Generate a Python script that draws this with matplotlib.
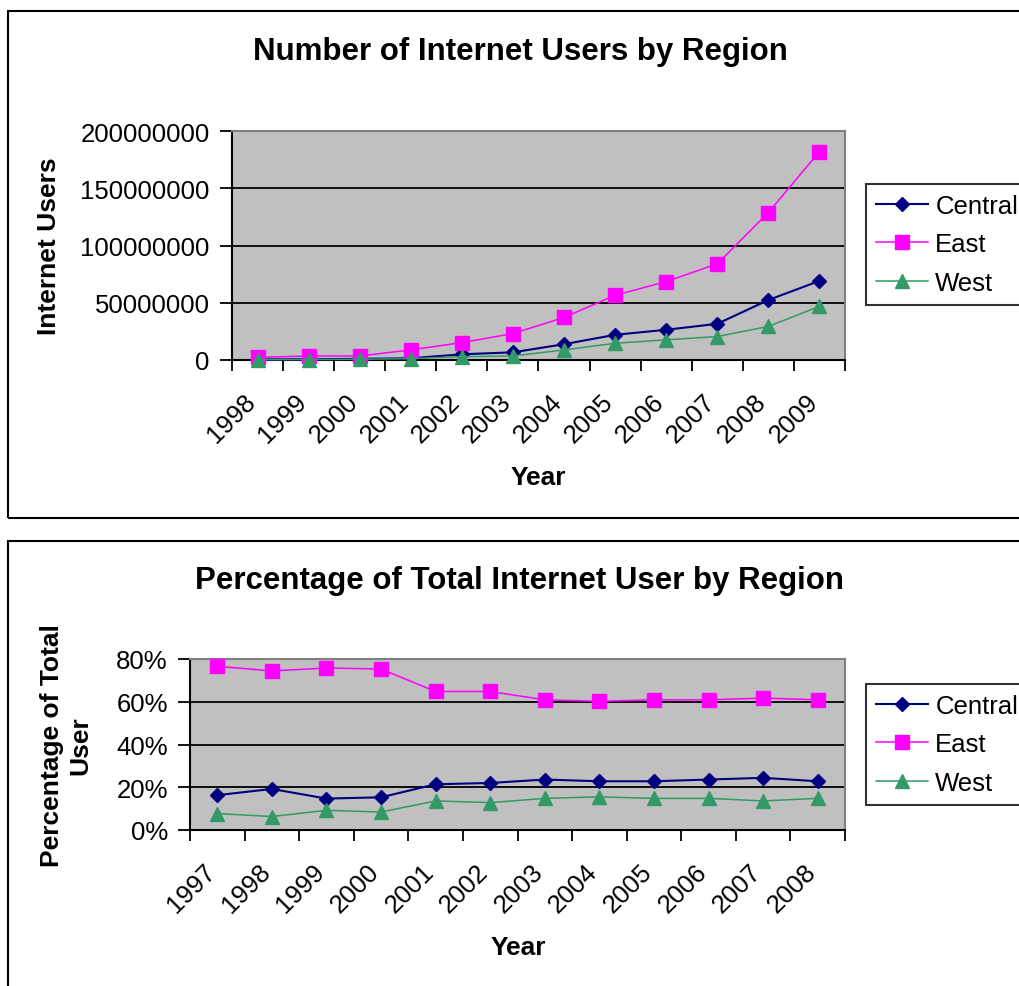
import matplotlib
matplotlib.use("Agg")
import matplotlib.pyplot as plt
import matplotlib.transforms as mtransforms
from matplotlib.patches import Rectangle
from matplotlib.ticker import FixedLocator, FuncFormatter

plt.rcParams["font.family"] = ["Liberation Sans", "DejaVu Sans"]

# internet users by region, absolute counts
years_users = ["1998", "1999", "2000", "2001", "2002", "2003",
               "2004", "2005", "2006", "2007", "2008", "2009"]
central_users = [500000, 700000, 1000000, 1500000, 5000000, 6700000,
                 13800000, 22000000, 26400000, 31600000, 52400000, 69100000]
east_users = [2300000, 3500000, 3500000, 8800000, 15200000, 23100000,
              37200000, 56500000, 68500000, 84000000, 128800000, 182000000]
west_users = [300000, 400000, 600000, 1200000, 2900000, 3500000,
              8800000, 14600000, 17600000, 20500000, 29300000, 46900000]

# share of total users by region
years_share = ["1997", "1998", "1999", "2000", "2001", "2002",
               "2003", "2004", "2005", "2006", "2007", "2008"]
central_share = [0.163, 0.192, 0.147, 0.153, 0.214, 0.220,
                 0.236, 0.228, 0.228, 0.236, 0.244, 0.228]
east_share = [0.766, 0.744, 0.758, 0.753, 0.648, 0.648,
              0.609, 0.602, 0.609, 0.609, 0.617, 0.609]
west_share = [0.077, 0.063, 0.092, 0.084, 0.136, 0.128,
              0.148, 0.155, 0.148, 0.148, 0.136, 0.148]

W, H = 1020, 987
fig = plt.figure(figsize=(W / 100, H / 100), dpi=100)
fig.patch.set_facecolor("white")

NAVY = "#000080"
MAGENTA = "#FF00FF"
GREEN = "#339966"
TICK_FS = 18.5


def px_rect(x0, y0, x1, y1):
    # pixel box (top-left origin) -> figure fraction [left, bottom, w, h]
    return [x0 / W, 1 - y1 / H, (x1 - x0) / W, (y1 - y0) / H]


# chart area frames
for y0, y1 in [(12, 519), (542, 1000)]:
    fig.add_artist(Rectangle((8 / W, 1 - y1 / H), (1030 - 8) / W, (y1 - y0) / H,
                             transform=fig.transFigure, fill=False,
                             edgecolor="black", lw=1.5))


def draw_panel(rect, cats, series, ylim, yticks, yfmt, title, title_y,
               ylabel, ylabel_x, legend_top):
    ax = fig.add_axes(px_rect(*rect))
    ax.set_facecolor("#C0C0C0")
    x = list(range(len(cats)))

    styles = [("Central", NAVY, "D", 7.5, 1.5),
              ("East", MAGENTA, "s", 9.5, 1.1),
              ("West", GREEN, "^", 10.5, 1.1)]
    for (name, color, marker, ms, lw), vals in zip(styles, series):
        ax.plot(x, vals, color=color, lw=lw, marker=marker, ms=ms,
                markerfacecolor=color, markeredgecolor=color,
                label=name, clip_on=False, zorder=3)

    ax.set_xlim(-0.5, len(cats) - 0.5)
    ax.set_ylim(*ylim)
    ax.set_yticks(yticks)
    ax.yaxis.set_major_formatter(FuncFormatter(yfmt))
    for v in yticks[1:-1]:
        ax.axhline(v, color="black", lw=1.3, zorder=1)

    # category labels centred, tick marks on the boundaries
    ax.set_xticks(x)
    ax.set_xticklabels(cats, rotation=45, ha="right", va="top",
                       rotation_mode="anchor")
    ax.xaxis.set_minor_locator(FixedLocator([i - 0.5 for i in range(len(cats) + 1)]))
    ax.tick_params(axis="x", which="major", length=0, pad=21, labelsize=TICK_FS)
    ax.tick_params(axis="x", which="minor", length=8, width=1.3, direction="out")
    ax.tick_params(axis="y", length=9, width=1.3, pad=7, labelsize=TICK_FS)
    shift = mtransforms.ScaledTranslation(-14 / 100, 0, fig.dpi_scale_trans)
    for lab in ax.get_xticklabels():
        lab.set_transform(lab.get_transform() + shift)

    for side in ("left", "bottom"):
        ax.spines[side].set_color("black")
        ax.spines[side].set_linewidth(1.5)
    for side in ("top", "right"):
        ax.spines[side].set_color("#808080")
        ax.spines[side].set_linewidth(1.5)

    fig.text(520 / W, 1 - title_y / H, title, ha="center", va="center",
             fontsize=22.5, fontweight="bold")
    fig.text(ylabel_x / W, 1 - (rect[1] + rect[3]) / 2 / H, ylabel,
             ha="center", va="center", rotation=90, fontsize=19,
             fontweight="bold", linespacing=1.2)

    leg = ax.legend(loc="upper left", bbox_to_anchor=(866 / W, 1 - legend_top / H),
                    bbox_transform=fig.transFigure, fontsize=18.5, frameon=True,
                    fancybox=False, edgecolor="black", handlelength=2.0,
                    handletextpad=0.3, labelspacing=0.55, borderpad=0.4,
                    borderaxespad=0)
    leg.get_frame().set_linewidth(1.5)
    return ax


draw_panel((232, 132, 845, 361), years_users,
           [central_users, east_users, west_users],
           (0, 200000000), [0, 50000000, 100000000, 150000000, 200000000],
           lambda v, p: f"{int(v)}",
           "Number of Internet Users by Region", 52,
           "Internet Users", 49, 185)
fig.text(538 / W, 1 - 478 / H, "Year", ha="center", va="center",
         fontsize=19, fontweight="bold")

draw_panel((190, 660, 845, 831), years_share,
           [central_share, east_share, west_share],
           (0, 0.8), [0, 0.2, 0.4, 0.6, 0.8],
           lambda v, p: f"{v * 100:.0f}%",
           "Percentage of Total Internet User by Region", 581,
           "Percentage of Total\nUser", 66, 685)
fig.text(518 / W, 1 - 948 / H, "Year", ha="center", va="center",
         fontsize=19, fontweight="bold")

fig.savefig("out.png", dpi=100, facecolor="white")
